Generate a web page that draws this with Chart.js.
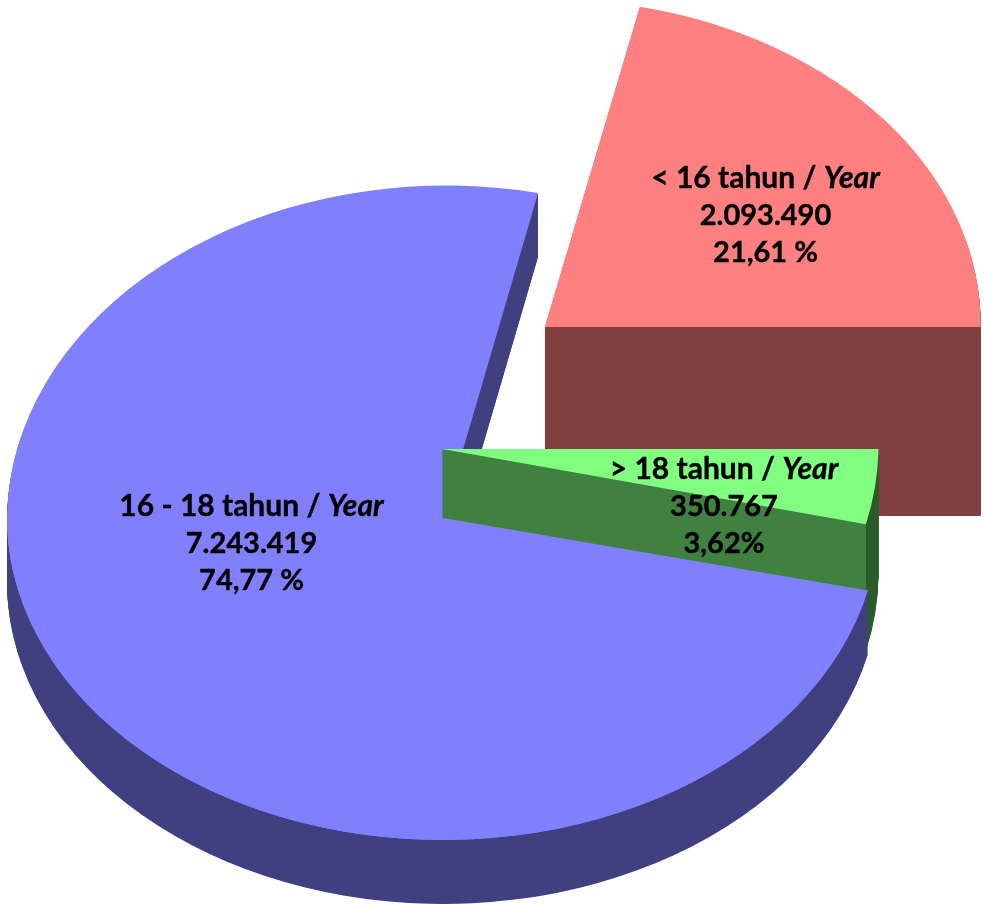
<!DOCTYPE html>
<html>
<head>
<meta charset="utf-8">
<style>html,body{margin:0;padding:0;background:#fff}canvas{display:block}</style>
<script src="https://cdn.jsdelivr.net/npm/chart.js@4"></script>
</head>
<body>
<canvas id="c" width="985" height="904"></canvas>
<script>
const categories = ['< 16 tahun', '> 18 tahun', '16 - 18 tahun'];
const values = [2093490, 350767, 7243419];
const valueLabels = ['2.093.490', '350.767', '7.243.419'];
const percentLabels = ['21,61 %', '3,62%', '74,77 %'];
const unitWord = 'Year';
const topColors = ['#FF8080', '#80FF80', '#8080FF'];
const wallColors = ['#804040', '#408040', '#403F7F'];
const greenOuterWall = '#2A5B2A';

const RED = 0, GREEN = 1, BLUE = 2;
const FONT = 'Lato, Carlito, sans-serif';
const HEAD_SIZE = 30;
const NUM_SIZE = 29;
const LINE_GAP = 37.5;
const labelPlaces = [
  {x: 765.5, y: 178},
  {x: 724, y: 469},
  {x: 251.5, y: 506}
];

function paint(ctx, arc, color, v, dy, part, edge) {
  const saved = arc.options;
  const o = Object.create(saved);
  o.backgroundColor = color;
  if (edge) {
    o.borderWidth = edge;
    o.borderColor = color;
  }
  arc.options = o;
  const cy = v.cy + dy;
  const half = (top, h, k, shear) => {
    ctx.save();
    ctx.beginPath();
    ctx.rect(0, top, 985, h);
    ctx.clip();
    ctx.translate(v.cx, cy);
    ctx.transform(1, 0, shear, 1, 0, 0);
    ctx.scale(1, k);
    ctx.translate(-arc.x, -arc.y);
    arc.draw(ctx);
    ctx.restore();
  };
  if (part !== 'down') half(-10, cy + 10, v.up, v.shearUp);
  if (part !== 'up') half(cy, 1200, v.down, v.shearDown);
  arc.options = saved;
}

// The stack of slices goes to a side layer whose colour is then made exact,
// so repeated edge blending leaves no bands on the wall.
function extrude(ctx, arc, color, v, depth, edge) {
  const layer = document.createElement('canvas');
  layer.width = 985;
  layer.height = 904;
  const lc = layer.getContext('2d', {willReadFrequently: true});
  for (let d = depth; d >= 1; d--) paint(lc, arc, color, v, d, 'both', edge);
  const img = lc.getImageData(0, 0, 985, 904);
  const px = img.data;
  const rgb = [1, 3, 5].map(i => parseInt(color.substr(i, 2), 16));
  for (let i = 0; i < px.length; i += 4) {
    px[i] = rgb[0];
    px[i + 1] = rgb[1];
    px[i + 2] = rgb[2];
  }
  lc.putImageData(img, 0, 0);
  ctx.drawImage(layer, 0, 0);
}

const pie3d = {
  id: 'pie3d',
  beforeDatasetsDraw(chart) {
    const ctx = chart.ctx;
    const arcs = chart.getDatasetMeta(0).data;
    const R = arcs[0].outerRadius;

    const r = {cx: 544.8, cy: 327, up: 327.6 / R, down: 327.6 / R, shearUp: -0.009, shearDown: 0};
    const g = {cx: 442.5, cy: 449, up: 334 / R, down: 334 / R, shearUp: 0, shearDown: -0.018};
    const b = {cx: 443, cy: 518, up: 332.5 / R, down: 322 / R, shearUp: -0.009, shearDown: 0};

    // raised red slice
    extrude(ctx, arcs[RED], wallColors[RED], r, 189);
    paint(ctx, arcs[RED], topColors[RED], r, 0);

    // green outer wall reaches down to the base of the pie
    extrude(ctx, arcs[GREEN], greenOuterWall, g, 127);

    // blue body
    extrude(ctx, arcs[BLUE], wallColors[BLUE], b, 64);
    paint(ctx, arcs[BLUE], topColors[BLUE], b, 0);

    // green radial wall, stopping at the slice's front corner
    const end = arcs[GREEN].endAngle;
    const tipDy = Math.sin(end) * R * g.down;
    const tipX = g.cx + Math.cos(end) * R + g.shearDown * tipDy;
    ctx.save();
    ctx.beginPath();
    ctx.rect(0, 0, Math.round(tipX), 904);
    ctx.clip();
    extrude(ctx, arcs[GREEN], wallColors[GREEN], g, 72, 1);
    ctx.restore();
    // the blue face in front of that wall trims its lower edge
    paint(ctx, arcs[BLUE], topColors[BLUE], b, 0, 'down');
    paint(ctx, arcs[GREEN], topColors[GREEN], g, 0);

    return false;
  },
  afterDraw(chart) {
    const ctx = chart.ctx;
    ctx.save();
    ctx.fillStyle = '#000';
    ctx.strokeStyle = '#000';
    ctx.lineWidth = 0.4;
    ctx.lineJoin = 'round';
    ctx.textBaseline = 'middle';
    const put = (text, x, y) => {
      ctx.fillText(text, x, y);
      ctx.strokeText(text, x, y);
    };
    categories.forEach((name, i) => {
      const p = labelPlaces[i];
      const head = name + ' / ';
      const boldFont = 'bold ' + HEAD_SIZE + 'px ' + FONT;
      const italFont = 'italic bold ' + HEAD_SIZE + 'px ' + FONT;
      ctx.font = boldFont;
      const w1 = ctx.measureText(head).width;
      ctx.font = italFont;
      const w2 = ctx.measureText(unitWord).width;
      const left = p.x - (w1 + w2) / 2;
      ctx.textAlign = 'left';
      ctx.font = boldFont;
      put(head, left, p.y);
      ctx.font = italFont;
      put(unitWord, left + w1, p.y);
      ctx.font = 'bold ' + NUM_SIZE + 'px ' + FONT;
      ctx.textAlign = 'center';
      put(valueLabels[i], p.x, p.y + LINE_GAP);
      put(percentLabels[i], p.x, p.y + 2 * LINE_GAP);
    });
    ctx.restore();
  }
};

new Chart(document.getElementById('c'), {
  type: 'pie',
  data: {
    labels: categories,
    datasets: [{data: values, backgroundColor: topColors, borderWidth: 0}]
  },
  options: {
    responsive: false,
    animation: false,
    rotation: 12.204,
    layout: {padding: {left: 7, right: 106, top: 16, bottom: 16}},
    plugins: {legend: {display: false}, tooltip: {enabled: false}}
  },
  plugins: [pie3d]
});
</script>
</body>
</html>
